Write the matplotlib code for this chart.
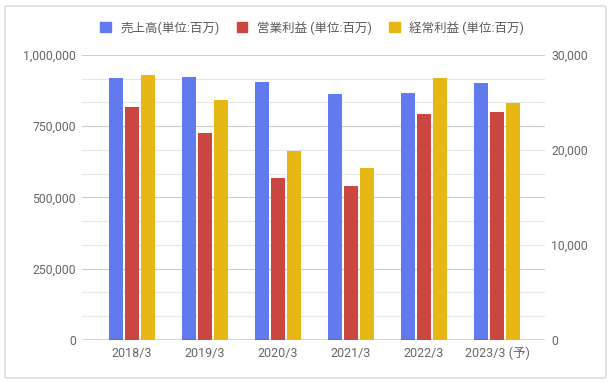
import numpy as np
import matplotlib.pyplot as plt
from matplotlib.patches import Patch, FancyBboxPatch
from matplotlib.ticker import FuncFormatter, MultipleLocator

plt.rcParams['font.family'] = ['Roboto', 'Noto Sans CJK JP', 'DejaVu Sans']

# data (単位:百万)
years = ['2018/3', '2019/3', '2020/3', '2021/3', '2022/3', '2023/3 (予)']
sales = [918000, 923000, 905000, 863000, 866000, 901000]
op_profit = [24500, 21800, 17050, 16200, 23800, 24000]
ord_profit = [27900, 25250, 19900, 18100, 27600, 24950]
labels = ['売上高(単位:百万)', '営業利益 (単位:百万)', '経常利益 (単位:百万)']

c_blue = '#617bef'
c_red = '#cc4641'
c_yellow = '#e7b715'
c_text = '#666666'

fig = plt.figure(figsize=(6.14, 3.83), dpi=100)
ax = fig.add_axes([0.1336, 0.1123, 0.754, 0.7441])
ax2 = ax.twinx()

x = np.arange(len(years))
w = 0.188
step = 0.219
ax.bar(x - step, sales, width=w, color=c_blue, zorder=3)
ax2.bar(x, op_profit, width=w, color=c_red, zorder=3)
ax2.bar(x + step, ord_profit, width=w, color=c_yellow, zorder=3)

ax.set_xlim(-0.685, 5.658)
ax.set_ylim(0, 1000000)
ax2.set_ylim(0, 30000)

fmt = FuncFormatter(lambda v, p: f'{int(v):,}')
ax.yaxis.set_major_locator(MultipleLocator(250000))
ax.yaxis.set_minor_locator(MultipleLocator(1000000 / 12))
ax.yaxis.set_major_formatter(fmt)
ax2.yaxis.set_major_locator(MultipleLocator(10000))
ax2.yaxis.set_major_formatter(fmt)

ax.grid(axis='y', which='minor', color='#e6e6e6', linewidth=0.8, zorder=0)
ax.grid(axis='y', which='major', color='#cccccc', linewidth=0.8, zorder=0)
ax.set_axisbelow(True)

for a in (ax, ax2):
    for s in ('top', 'left', 'right', 'bottom'):
        a.spines[s].set_visible(False)
    a.tick_params(axis='y', which='both', length=0, colors=c_text, labelsize=8.8)
    a.tick_params(axis='y', which='major', pad=4.5)
ax.axhline(0, color='#333333', linewidth=1.0, zorder=4)

ax.set_xticks(x)
ax.set_xticklabels(years, va='baseline')
ax.tick_params(axis='x', length=0, colors=c_text, labelsize=9, pad=12.5)

handles = [Patch(color=c_blue), Patch(color=c_red), Patch(color=c_yellow)]
leg = fig.legend(handles, labels, loc='center', bbox_to_anchor=(0.508, 0.927), ncol=3,
                 frameon=False, fontsize=9, handlelength=0.85, handleheight=0.85,
                 handletextpad=0.75, columnspacing=1.4)
for t in leg.get_texts():
    t.set_color('#5a5a5a')

# outer card border
border = FancyBboxPatch((5 / 614, 5 / 383), 601 / 614, 372 / 383,
                        boxstyle='round,pad=0,rounding_size=0.004',
                        transform=fig.transFigure, fill=False,
                        edgecolor='#d6d6d6', linewidth=1.0)
fig.patches.append(border)

fig.savefig('out.png', dpi=100)
